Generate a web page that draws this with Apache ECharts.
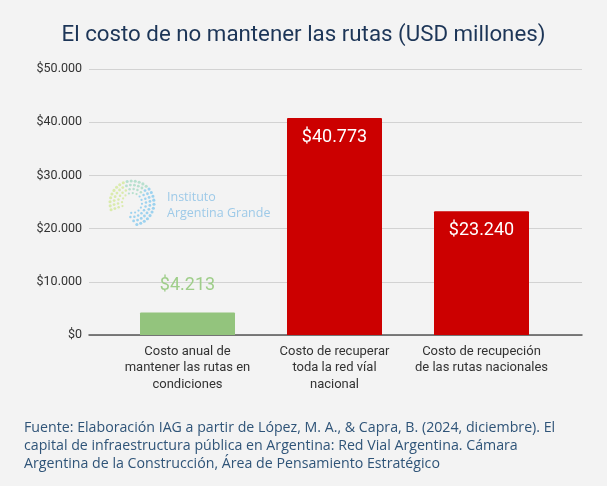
<!DOCTYPE html>
<html>
<head>
<meta charset="utf-8">
<script src="https://cdn.jsdelivr.net/npm/echarts@6/dist/echarts.min.js"></script>
<style>
  html, body { margin: 0; padding: 0; background: #f3f3f3; }
  #chart { width: 607px; height: 486px; }
</style>
</head>
<body>
<div id="chart"></div>
<script>
var categories = [
    'Costo anual de\nmantener las rutas en\ncondiciones',
    'Costo de recuperar\ntoda la red víal\nnacional',
    'Costo de recupeción\nde las rutas nacionales'
];
var values = [4213, 40773, 23240];
var barColors = ['#93c47d', '#cc0000', '#cc0000'];
var labelColors = ['#9fce8a', '#ffffff', '#ffffff'];

var chartDom = document.getElementById('chart');
var chart = echarts.init(chartDom);

function money(v) {
    return '$' + String(v).replace(/\B(?=(\d{3})+(?!\d))/g, '.');
}

// logo dots, decorative spiral ring
var logoDots = [];
[10, 14, 18, 22].forEach(function (r, k) {
    var n = 16 + k * 6;
    for (var i = 0; i < n; i++) {
        var t = i / n;
        if (t > 0.86 - k * 0.03) continue; // gap lower-left
        var a = Math.PI * 0.9 + t * Math.PI * 2; // start left, go clockwise
        var col = t < 0.25 ? '#d3e89a' : (t < 0.42 ? '#a8dbc4' : '#86c9ee');
        logoDots.push({
            type: 'circle',
            shape: { cx: 132 + Math.cos(a) * r, cy: 203 + Math.sin(a) * r, r: 1.1 + k * 0.15 },
            style: { fill: col, opacity: 0.8 },
            silent: true
        });
    }
});

var option = {
    backgroundColor: '#f3f3f3',
    animation: false,
    title: {
        text: 'El costo de no mantener las rutas (USD millones)',
        left: 'center',
        top: 19,
        textStyle: {
            fontFamily: 'Roboto',
            fontWeight: 'normal',
            fontSize: 22.3,
            color: '#1c3557'
        }
    },
    grid: [
        { left: 89, right: 25, top: 69, bottom: 151 },
        { left: 114, right: 52, top: 69, bottom: 151 }
    ],
    xAxis: [
        {
            gridIndex: 0,
            type: 'category',
            data: ['', '', ''],
            axisLine: { show: true, lineStyle: { color: '#555555', width: 1.5 } },
            axisTick: { show: false },
            axisLabel: { show: false }
        },
        {
            gridIndex: 1,
            type: 'category',
            data: categories,
            axisLine: { show: false },
            axisTick: { show: false },
            axisLabel: {
                fontFamily: 'Roboto',
                fontSize: 13,
                color: '#333333',
                lineHeight: 16.5,
                margin: 8,
                interval: 0
            }
        }
    ],
    yAxis: [
        {
            gridIndex: 0,
            type: 'value',
            min: 0,
            max: 50000,
            interval: 10000,
            axisLine: { show: false },
            axisTick: { show: false },
            splitLine: { lineStyle: { color: '#d2d2d2', width: 1 } },
            axisLabel: {
                fontFamily: 'Roboto',
                fontSize: 12.5,
                color: '#333333',
                margin: 7,
                formatter: function (v) { return money(v); }
            }
        },
        {
            gridIndex: 1,
            type: 'value',
            min: 0,
            max: 50000,
            interval: 10000,
            show: false
        }
    ],
    series: [
        {
            type: 'bar',
            xAxisIndex: 1,
            yAxisIndex: 1,
            barWidth: 95,
            data: values.map(function (v, i) {
                return {
                    value: v,
                    itemStyle: { color: barColors[i], borderRadius: [1, 1, 0, 0] },
                    label: i === 0
                        ? { position: 'top', distance: 18, color: labelColors[i] }
                        : { position: 'insideTop', distance: 10, color: labelColors[i] }
                };
            }),
            label: {
                show: true,
                fontFamily: 'Roboto',
                fontSize: 18,
                formatter: function (p) { return money(p.value); }
            }
        }
    ],
    graphic: logoDots.concat([
        {
            type: 'text',
            left: 167,
            top: 190,
            silent: true,
            style: {
                text: 'Instituto\nArgentina Grande',
                fontFamily: 'Open Sans',
                fontSize: 12.5,
                lineHeight: 15.5,
                fill: '#9ecae8'
            }
        },
        {
            type: 'text',
            left: 24,
            top: 419,
            silent: true,
            style: {
                text: 'Fuente: Elaboración IAG a partir de López, M. A., & Capra, B. (2024, diciembre). El\ncapital de infraestructura pública en Argentina: Red Vial Argentina. Cámara\nArgentina de la Construcción, Área de Pensamiento Estratégico',
                fontFamily: 'Open Sans',
                fontSize: 14.2,
                lineHeight: 18,
                fill: '#2f5478'
            }
        }
    ])
};

option && chart.setOption(option);

window.addEventListener('resize', () => {
    chart.resize();
});
</script>
</body>
</html>
